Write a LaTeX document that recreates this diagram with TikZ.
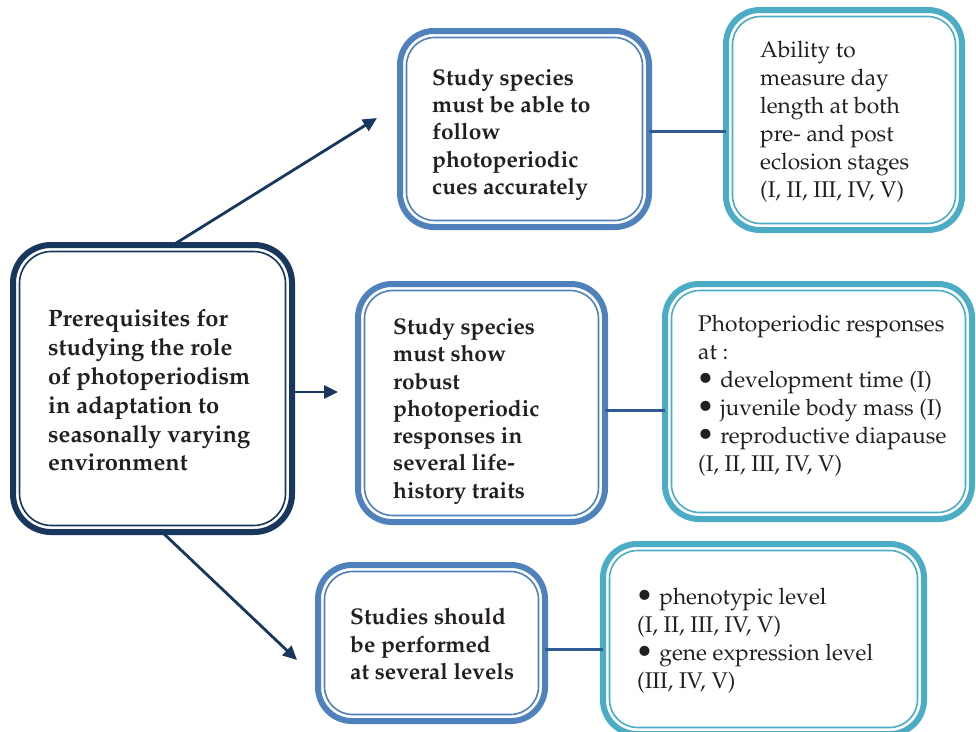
\documentclass[tikz,border=0pt]{standalone}
\usepackage[T1]{fontenc}
\usepackage{mathpazo}
\usetikzlibrary{arrows.meta}
\definecolor{navy}{HTML}{17375E}
\definecolor{blu}{HTML}{4F81BD}
\definecolor{teal}{HTML}{4BACC6}
\definecolor{connc}{HTML}{2F5A92}
\definecolor{ink}{HTML}{231F20}
\newcommand\innerline[3]{\draw[draw=#2, line width=1.6pt, rounded corners=#3] ([shift={(6.5pt,-6.5pt)}]#1.north west) rectangle ([shift={(-6.5pt,6.5pt)}]#1.south east);}
\newcommand\bul{\makebox[16.5pt][l]{\hspace{-1.5pt}\smash{\raisebox{-0.8pt}{\scalebox{1.3}{\textbullet}}}}}
\begin{document}
\begin{tikzpicture}[x=1pt, y=-1pt,
  box/.style={draw=#1, line width=6pt, rounded corners=34pt, outer sep=0pt, inner sep=0pt, fill=white},
  lbl/.style={anchor=west, align=left, inner sep=0pt, text=ink, font=\fontsize{22.7}{28}\selectfont},
  blbl/.style={anchor=west, align=left, inner sep=0pt, text=ink, font=\fontsize{22.7}{27.3}\selectfont\bfseries},
  arr/.style={draw=navy, line width=2.8pt, -{Triangle[length=14pt,width=13pt]}},
  conn/.style={draw=connc, line width=3pt}]
\useasboundingbox (0,0) rectangle (976,731);
% boxes
\node[box=navy, rounded corners=38pt, minimum width=279pt, minimum height=287pt] (M) at (152.5,388.5) {};
\innerline{M}{navy}{32pt}
\node[box=blu, minimum width=249pt, minimum height=196pt] (A) at (524.5,129) {};
\innerline{A}{blu}{28pt}
\node[box=blu, minimum width=247pt, minimum height=238pt] (B) at (481.5,403) {};
\innerline{B}{blu}{28pt}
\node[box=blu, minimum width=227pt, minimum height=156pt] (C) at (431.5,643) {};
\innerline{C}{blu}{28pt}
\node[box=teal, minimum width=236pt, minimum height=220pt] (D) at (844,120) {};
\innerline{D}{teal}{28pt}
\node[box=teal, minimum width=307pt, minimum height=235pt] (E) at (818.5,401.5) {};
\innerline{E}{teal}{28pt}
\node[box=teal, minimum width=321pt, minimum height=190pt] (F) at (763.5,639) {};
\innerline{F}{teal}{28pt}
% texts
\node[blbl, font=\fontsize{23.7}{28.8}\selectfont\bfseries] (Mt) at (48,390.5) {Prerequisites for\\studying the role\\of photoperiodism\\in adaptation to\\seasonally varying\\environment};
\node[blbl] (At) at (432,134.5) {Study species\\must be able to\\follow\\photoperiodic\\cues accurately};
\node[blbl] (Bt) at (393,411) {Study species\\must show\\robust\\photoperiodic\\responses in\\several life-\\history traits};
\node[blbl] (Ct) at (350,644) {Studies should\\be performed\\at several levels};
\node[lbl] (Dt) at (760,122) {Ability to\\measure day\\length at both\\pre- and post\\eclosion stages\\(I, II, III, IV, V)};
\node[lbl] (Et) at (698,396) {Photoperiodic responses\\at :\\\bul{} development time (I)\\\bul{} juvenile body mass (I)\\\bul{} reproductive diapause\\(I, II, III, IV, V)};
\node[lbl] (Ft) at (637,641) {\bul{} phenotypic level\\(I, II, III, IV, V)\\\bul{} gene expression level\\(III, IV, V)};
% arrows
\coordinate (tipA) at (377,118);
\coordinate (tipB) at (338,392);
\coordinate (tipC) at (297,660);
\draw[arr] ([xshift=20.5pt]M.north) -- (tipA);
\draw[arr] ([yshift=-3.5pt]M.east) -- (tipB);
\draw[arr] ([xshift=9.5pt]M.south) -- (tipC);
% connectors
\draw[conn] ([yshift=-2pt]A.east) -- ([yshift=-2pt]A.east -| D.west);
\draw[conn] ([yshift=-7pt]B.east) -- ([yshift=-7pt]B.east -| E.west);
\draw[conn] ([yshift=-6pt]C.east) -- ([yshift=-6pt]C.east -| F.west);
\end{tikzpicture}
\end{document}
